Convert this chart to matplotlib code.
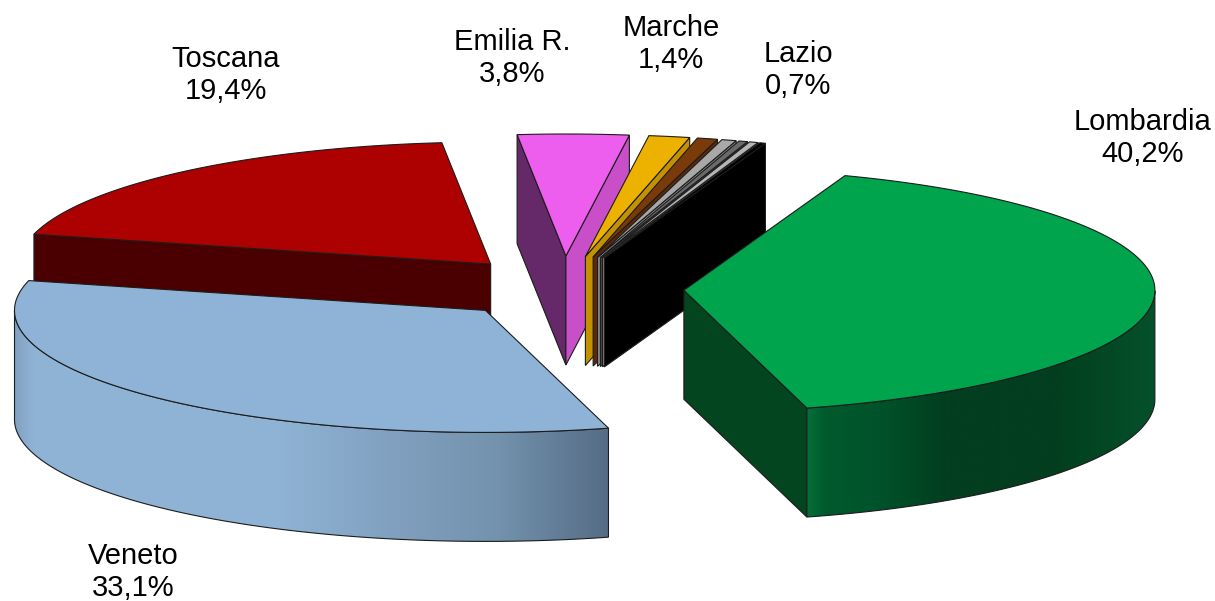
import numpy as np
import matplotlib
matplotlib.use("Agg")
import matplotlib.pyplot as plt
from matplotlib.patches import Polygon
from matplotlib.colors import LinearSegmentedColormap

plt.rcParams['font.family'] = ['Liberation Sans', 'DejaVu Sans']

# slices, clockwise from the back right
regions = ["Lombardia", "Veneto", "Toscana", "Emilia R.", "Marche", "Lazio", "Altre 1", "Altre 2", "Altre 3", "Altre 4"]
shares = [40.2, 33.1, 19.4, 3.8, 1.4, 0.7, 0.5, 0.3, 0.3, 0.2]
labelled = ["Lombardia", "Veneto", "Toscana", "Emilia R.", "Marche", "Lazio"]

top_colors = ["#00a44d", "#8fb3d6", "#ad0000", "#ee5eee", "#edb200", "#7a3a0a", "#a8a8a8", "#6a6a6a", "#b5b5b5", "#000000"]
face_colors = ["#02451f", "#8fb3d6", "#4a0000", "#c94fc9", "#c49200", "#5a2a08", "#8a8a8a", "#444444", "#9a9a9a", "#000000"]
left_face_colors = {"Emilia R.": "#652868"}

# label centre in pixels
label_pos = {"Lombardia": (1143, 138), "Veneto": (133, 572), "Toscana": (226, 75),
             "Emilia R.": (512, 58), "Marche": (671, 44), "Lazio": (798, 70)}

# layout of the projected pie, in pixels
cx, cy = 564, 289
rx, ry = 471, 122
depth = 109
start_angle = 70.0
explode_right, explode_left = 120, 112
explode_up, explode_down = 33, 30
edge = "#1c1c1c"

green_stops = [(806, "#06703a"), (825, "#005a2c"), (880, "#00522a"), (945, "#023e1f"), (1060, "#023f1f"), (1156, "#05512b")]
blue_stops = [(12, "#7f9fbf"), (32, "#8fb3d5"), (280, "#8fb3d5"), (400, "#809fbe"), (500, "#7292ad"), (610, "#566c85")]
side_stops = {"Lombardia": green_stops, "Veneto": blue_stops}


def project(apex, theta, r=1.0):
    return apex[0] + rx * r * np.cos(theta), apex[1] - ry * r * np.sin(theta)


def gradient_side(ax, xs, ys_top, ys_bot, stops):
    verts = np.vstack([np.column_stack([xs, ys_top]), np.column_stack([xs, ys_bot])[::-1]])
    patch = Polygon(verts, closed=True, fc="none", ec=edge, lw=0.8, zorder=ax.zcount + 0.5)
    ax.add_patch(patch)
    lo, hi = stops[0][0], stops[-1][0]
    cmap = LinearSegmentedColormap.from_list("side", [((x - lo) / (hi - lo), c) for x, c in stops])
    grad = np.linspace(0, 1, 512).reshape(1, -1)
    im = ax.imshow(grad, cmap=cmap, extent=[lo, hi, ys_bot.max() + 2, ys_top.min() - 2],
                   aspect="auto", zorder=ax.zcount + 0.25)
    im.set_clip_path(patch)


def draw_slice(ax, name, a0, a1, top, face):
    # a0 > a1, clockwise, radians
    mid = 0.5 * (a0 + a1)
    up = explode_up if np.sin(mid) > 0 else explode_down
    side = explode_right if np.cos(mid) > 0 else explode_left
    apex = (cx + side * np.cos(mid), cy - up * np.sin(mid))
    ax.zcount += 1

    # straight cut faces, only those turned to the viewer
    for a in (a0, a1):
        radial = np.array([np.cos(a), np.sin(a)])
        normal = np.array([-radial[1], radial[0]])
        if normal @ np.array([np.cos(mid), np.sin(mid)]) > 0:
            normal = -normal
        if normal[1] >= 0:
            continue
        col = left_face_colors.get(name, face) if a == a0 else face
        px, py = project(apex, a)
        ax.add_patch(Polygon([apex, (px, py), (px, py + depth), (apex[0], apex[1] + depth)],
                             closed=True, fc=col, ec=edge, lw=0.8, zorder=ax.zcount))

    # rim, only the part in front
    theta = np.linspace(a0, a1, 300)
    front = np.sin(theta) < 0
    if front.any():
        xs, ys = project(apex, theta[front])
        if name in side_stops:
            gradient_side(ax, xs, ys, ys + depth, side_stops[name])
        else:
            ax.add_patch(Polygon(np.vstack([np.column_stack([xs, ys]), np.column_stack([xs, ys + depth])[::-1]]),
                                 closed=True, fc=face, ec=edge, lw=0.8, zorder=ax.zcount))
    ax.zcount += 1

    # top
    xs, ys = project(apex, theta)
    ax.add_patch(Polygon(np.vstack([[apex], np.column_stack([xs, ys])]), closed=True,
                         fc=top, ec=edge, lw=0.8, zorder=ax.zcount))
    ax.zcount += 1


def main():
    fig = plt.figure(figsize=(12.15, 6.01), dpi=100)
    ax = fig.add_axes([0, 0, 1, 1])
    ax.zcount = 1

    sweep = np.radians(np.array(shares) / sum(shares) * 360)
    starts = np.radians(start_angle) - np.concatenate([[0], np.cumsum(sweep)[:-1]])
    ends = starts - sweep

    # back to front, Lombardia goes last
    order = [2, 1, 3, 4, 5, 6, 7, 8, 9, 0]
    for i in order:
        draw_slice(ax, regions[i], starts[i], ends[i], top_colors[i], face_colors[i])

    for name, value in zip(regions, shares):
        if name in labelled:
            x, y = label_pos[name]
            ax.text(x, y, name + "\n" + f"{value:.1f}".replace(".", ",") + "%", ha="center", va="center",
                    fontsize=21, color="black", linespacing=1.2, zorder=100)

    ax.set_xlim(0, 1215)
    ax.set_ylim(601, 0)
    ax.axis("off")
    fig.savefig("out.png", dpi=100, facecolor="white")


if __name__ == "__main__":
    main()
